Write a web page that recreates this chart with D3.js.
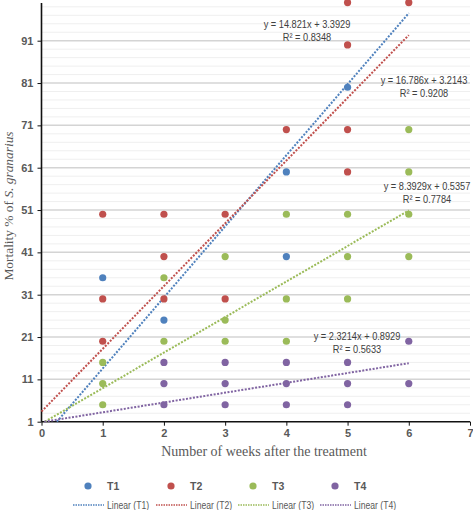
<!DOCTYPE html>
<html><head><meta charset="utf-8">
<script src="https://cdn.jsdelivr.net/npm/d3@7"></script>
<style>body{margin:0;background:#fff}svg{display:block}</style></head>
<body><svg id="c" width="473" height="510"></svg>
<script>
// ---- data ----
const xTicks = [0,1,2,3,4,5,6,7];
const yTicks = [1,11,21,31,41,51,61,71,81,91];
const seriesNames = ["T1","T2","T3","T4"];
const colors = ["#4F81BD","#C0504D","#9BBB59","#8064A2"];
const t1X = [1,2,4,4,5];
const t1Y = [35,25,60,40,80];
const t2X = [1,1,1,2,2,2,3,3,4,5,5,5,5,6];
const t2Y = [50,30,20,50,40,30,50,30,70,100,90,70,60,100];
const t3X = [1,1,1,2,2,3,3,3,4,4,4,5,5,5,6,6,6,6];
const t3Y = [15,10,5,35,20,40,25,20,50,30,20,50,40,30,70,60,50,40];
const t4X = [2,2,2,3,3,3,4,4,4,5,5,5,6,6];
const t4Y = [15,10,5,15,10,5,15,10,5,15,10,5,20,10];
const trendSlopes = [16.786, 14.821, 8.3929, 2.3214];
const trendIntercepts = [-3.2143, 3.3929, 0.5357, 0.8929];
const eqLabels = ["y = 14.821x + 3.3929","y = 16.786x + 3.2143","y = 8.3929x + 0.5357","y = 2.3214x + 0.8929"];
const r2Labels = ["R\u00B2 = 0.8348","R\u00B2 = 0.9208","R\u00B2 = 0.7784","R\u00B2 = 0.5633"];
const xTitle = "Number of weeks after the treatment";

// ---- chart ----
const svg = d3.select("#c");
const x = d3.scaleLinear().domain([0,7]).range([41.5,470]);
const y = d3.scaleLinear().domain([1,100]).range([421.7,2.6]);

// gridlines
const minor = d3.range(3,100,2).filter(v => (v-1)%10 !== 0);
svg.append("g").selectAll("line").data(minor).join("line")
  .attr("x1",x(0)).attr("x2",x(7)).attr("y1",d=>y(d)).attr("y2",d=>y(d))
  .attr("stroke","#dedede").attr("stroke-width",1).attr("stroke-dasharray","1,1");
svg.append("g").selectAll("line").data(yTicks.slice(1)).join("line")
  .attr("x1",x(0)).attr("x2",x(7)).attr("y1",d=>y(d)).attr("y2",d=>y(d))
  .attr("stroke","#d4d4d4").attr("stroke-width",1.5);

// axes
const fontSans = "'Liberation Sans', Arial, sans-serif";
const yAxis = svg.append("g").attr("transform",`translate(${x(0)},0)`)
  .call(d3.axisLeft(y).tickValues(yTicks).tickFormat(d3.format("d")).tickSize(4).tickPadding(4));
const xAxis = svg.append("g").attr("transform",`translate(0,${y(1)})`)
  .call(d3.axisBottom(x).tickValues(xTicks).tickFormat(d3.format("d")).tickSize(4).tickPadding(4));
[xAxis,yAxis].forEach(g=>{
  g.select(".domain").attr("stroke","#111").attr("stroke-width",1.6);
  g.selectAll(".tick line").attr("stroke","#111").attr("stroke-width",1);
  g.selectAll("text").attr("fill","#595959").attr("font-size",11)
    .attr("font-weight","bold").attr("font-family",fontSans);
});
yAxis.select(".domain").attr("d",`M-0,${y(1)}V${y(100)+0.4}`);
xAxis.select(".domain").attr("d",`M${x(0)},0H${x(7)}`);

// trendlines
const trendG = svg.append("g");
trendSlopes.forEach((m,i)=>{
  const b = trendIntercepts[i];
  const x0 = Math.max(0,(1-b)/m);
  trendG.append("line")
    .attr("x1",x(x0)).attr("y1",y(m*x0+b))
    .attr("x2",x(6)).attr("y2",y(m*6+b))
    .attr("stroke",colors[i]).attr("stroke-width",2).attr("stroke-dasharray","2,1.5");
});

// points
const seriesX = [t1X,t2X,t3X,t4X], seriesY = [t1Y,t2Y,t3Y,t4Y];
seriesX.forEach((xs,i)=>{
  svg.append("g").selectAll("circle").data(xs.map((v,j)=>[v,seriesY[i][j]])).join("circle")
    .attr("cx",d=>x(d[0])).attr("cy",d=>y(d[1])).attr("r",3.6).attr("fill",colors[i]);
});

// equation labels (horizontally condensed to mimic the narrow original font)
const eqPos = [[307,28],[424,84],[427,190],[357,340]];
eqLabels.forEach((t,i)=>{
  const g = svg.append("g").attr("transform",`translate(${eqPos[i][0]},${eqPos[i][1]}) scale(0.84,1)`)
    .attr("font-family",fontSans).attr("font-size",11)
    .attr("fill","#404040").attr("text-anchor","middle");
  g.append("text").attr("x",0).attr("y",0).text(t);
  g.append("text").attr("x",0).attr("y",13).text(r2Labels[i]);
});

// axis titles
svg.append("text").attr("x",264).attr("y",456).attr("text-anchor","middle")
  .attr("font-family","'Liberation Serif','Times New Roman',serif").attr("font-size",14)
  .attr("fill","#595959").text(xTitle);
const yt = svg.append("text").attr("transform","translate(13,206) rotate(-90)")
  .attr("text-anchor","middle")
  .attr("font-family","'Liberation Serif','Times New Roman',serif").attr("font-size",13.4)
  .attr("fill","#595959");
yt.append("tspan").text("Mortality % of ");
yt.append("tspan").attr("font-style","italic").text("S. granarius");

// legend
const legX = [88,171,253,335];
seriesNames.forEach((n,i)=>{
  svg.append("circle").attr("cx",legX[i]).attr("cy",486).attr("r",3.6).attr("fill",colors[i]);
  svg.append("text").attr("x",legX[i]+19).attr("y",490).attr("font-family",fontSans)
    .attr("font-size",10.5).attr("font-weight","bold").attr("fill","#595959").text(n);
  svg.append("line").attr("x1",legX[i]-15).attr("x2",legX[i]+16).attr("y1",505).attr("y2",505)
    .attr("stroke",colors[i]).attr("stroke-width",1.3).attr("stroke-dasharray","1.5,1");
  svg.append("g").attr("transform",`translate(${legX[i]+19},509) scale(0.82,1)`)
    .append("text").attr("font-family",fontSans)
    .attr("font-size",10.5).attr("fill","#595959").text(`Linear (${n})`);
});
</script></body></html>
